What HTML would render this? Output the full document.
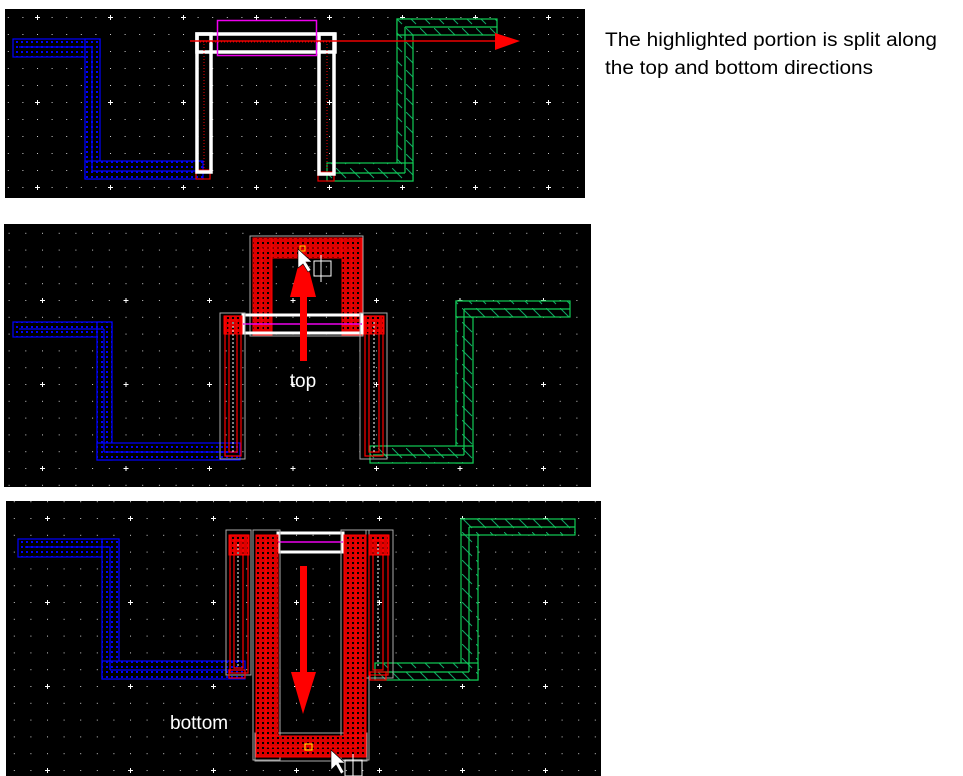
<!DOCTYPE html>
<html><head><meta charset="utf-8"><style>
html,body{margin:0;padding:0;background:#fff;width:963px;height:776px;overflow:hidden}
svg{display:block}
</style></head><body>
<svg width="963" height="776" viewBox="0 0 963 776" xmlns="http://www.w3.org/2000/svg">
<defs>
<pattern id="g1" x="34" y="14" width="73" height="85" patternUnits="userSpaceOnUse">
  <rect x="1" y="3" width="5" height="1" fill="#fff"/><rect x="3" y="1" width="1" height="5" fill="#fff"/>
</pattern>
<pattern id="d1" x="37" y="17" width="14.6" height="17" patternUnits="userSpaceOnUse"><rect x="0" y="0" width="1" height="1" fill="#ccc"/></pattern>
<pattern id="g2" x="206" y="297" width="83.5" height="84" patternUnits="userSpaceOnUse">
  <rect x="1" y="3" width="5" height="1" fill="#fff"/><rect x="3" y="1" width="1" height="5" fill="#fff"/>
</pattern>
<pattern id="d2" x="209" y="300" width="16.7" height="16.8" patternUnits="userSpaceOnUse"><rect x="0" y="0" width="1" height="1" fill="#ccc"/></pattern>
<pattern id="g3" x="44" y="515" width="83" height="84" patternUnits="userSpaceOnUse">
  <rect x="1" y="3" width="5" height="1" fill="#fff"/><rect x="3" y="1" width="1" height="5" fill="#fff"/>
</pattern>
<pattern id="d3" x="47" y="518" width="16.6" height="16.8" patternUnits="userSpaceOnUse"><rect x="0" y="0" width="1" height="1" fill="#ccc"/></pattern>
<pattern id="bl" width="5" height="5" patternUnits="userSpaceOnUse"><rect width="5" height="5" fill="#000"/><rect x="1" y="1" width="2" height="2" fill="#00f"/></pattern>
<pattern id="rd" width="5" height="5" patternUnits="userSpaceOnUse"><rect width="5" height="5" fill="#d00"/><rect x="2" y="2" width="2" height="2" fill="#000"/></pattern>
<pattern id="gr" width="14" height="14" patternUnits="userSpaceOnUse"><rect width="14" height="14" fill="#000"/><line x1="0" y1="0" x2="10" y2="10" stroke="#1a6" stroke-width="1"/></pattern>
</defs>

<!-- Panel 1 -->
<rect x="5" y="9" width="580" height="189" fill="#000"/>
<rect x="5" y="9" width="580" height="189" fill="url(#d1)"/>
<rect x="5" y="9" width="580" height="189" fill="url(#g1)"/>
<g fill="url(#bl)" stroke="#00f" stroke-width="1.2">
<rect x="13" y="39" width="87" height="18"/><rect x="85" y="39" width="15" height="140"/><rect x="85" y="161" width="118" height="18"/>
<line x1="19" y1="47" x2="92" y2="47"/><line x1="92" y1="47" x2="92" y2="171"/><line x1="92" y1="171" x2="200" y2="171"/>
</g>
<g fill="url(#gr)" stroke="#1c5" stroke-width="1.2">
<rect x="397" y="19" width="16" height="162"/><rect x="397" y="19" width="100" height="16"/><rect x="327" y="163" width="86" height="18"/>
<line x1="405" y1="27" x2="497" y2="27"/><line x1="405" y1="27" x2="405" y2="173"/><line x1="330" y1="173" x2="405" y2="173"/>
</g>
<rect x="196" y="170" width="14" height="9" fill="none" stroke="#e00" stroke-width="1.2"/>
<rect x="318" y="172" width="16" height="9" fill="none" stroke="#e00" stroke-width="1.2"/>
<g fill="none" stroke="#fff" stroke-width="3.5">
<rect x="197" y="34" width="14" height="138"/><rect x="197" y="34" width="138" height="18"/><rect x="319" y="34" width="15" height="140"/>
</g>
<g stroke="#e00" stroke-width="1" stroke-dasharray="1 2">
<line x1="204" y1="44" x2="204" y2="170"/><line x1="327" y1="44" x2="327" y2="170"/><line x1="200" y1="42" x2="330" y2="42"/>
</g>
<rect x="217.5" y="20.5" width="99" height="35" fill="none" stroke="#e0e" stroke-width="1.5"/>
<line x1="190" y1="41" x2="495" y2="41" stroke="#e00" stroke-width="1.5"/>
<polygon points="495,33 520,41 495,50" fill="#f00"/>
<text x="605" y="46" font-family="Liberation Sans, sans-serif" font-size="19" fill="#000" textLength="332" lengthAdjust="spacingAndGlyphs">The highlighted portion is split along</text>
<text x="605" y="74" font-family="Liberation Sans, sans-serif" font-size="19" fill="#000" textLength="268" lengthAdjust="spacingAndGlyphs">the top and bottom directions</text>

<!-- Panel 2 -->
<rect x="4" y="224" width="587" height="263" fill="#000"/>
<rect x="4" y="224" width="587" height="263" fill="url(#d2)"/>
<rect x="4" y="224" width="587" height="263" fill="url(#g2)"/>
<g fill="url(#bl)" stroke="#00f" stroke-width="1.2">
<rect x="13" y="322" width="99" height="15"/><rect x="97" y="322" width="15" height="138"/><rect x="97" y="443" width="143" height="17"/>
<line x1="19" y1="329" x2="104" y2="329"/><line x1="104" y1="329" x2="104" y2="452"/><line x1="104" y1="452" x2="237" y2="452"/>
</g>
<g fill="url(#gr)" stroke="#1c5" stroke-width="1.2">
<rect x="456" y="301" width="17" height="162"/><rect x="456" y="301" width="114" height="16"/><rect x="370" y="446" width="103" height="17"/>
<line x1="464" y1="309" x2="570" y2="309"/><line x1="464" y1="309" x2="464" y2="455"/><line x1="373" y1="455" x2="464" y2="455"/>
</g>
<!-- top block -->
<rect x="250" y="236" width="113" height="100" fill="none" stroke="#aaa" stroke-width="1"/>
<g fill="url(#rd)" stroke="#f00" stroke-width="1">
<rect x="253" y="238" width="109" height="20"/><rect x="253" y="238" width="19" height="97"/><rect x="342" y="238" width="20" height="97"/>
</g>
<g fill="none" stroke="#f00" stroke-width="1"><path d="M262 330 V248 H352 V330"/></g>
<rect x="243" y="315" width="119" height="18" fill="none" stroke="#fff" stroke-width="3"/>
<line x1="243" y1="324" x2="362" y2="324" stroke="#e0e" stroke-width="1.5"/>
<g fill="none" stroke="#aaa" stroke-width="1"><rect x="220" y="313" width="25" height="146"/><rect x="360" y="313" width="27" height="146"/></g>
<g fill="url(#rd)" stroke="#f00" stroke-width="1">
<rect x="224" y="316" width="18" height="18"/><rect x="364" y="316" width="20" height="18"/>
</g>
<g fill="none" stroke="#f00" stroke-width="1.2">
<rect x="225" y="316" width="16" height="140"/><rect x="365" y="316" width="18" height="140"/>
<rect x="229" y="320" width="8" height="132"/><rect x="369" y="320" width="10" height="132"/>
</g>
<g fill="none" stroke="#fff" stroke-width="1" stroke-dasharray="2 2"><line x1="233" y1="322" x2="233" y2="452"/><line x1="374" y1="322" x2="374" y2="452"/></g>
<rect x="300" y="295" width="7" height="66" fill="#f00"/>
<polygon points="303,247 290,297 316,297" fill="#f00"/>
<rect x="300" y="246" width="5" height="5" fill="none" stroke="#fc0" stroke-width="1"/>
<polygon points="298,249 298,268 303,264 308,272 311,270 306,262 312,262" fill="#fff" stroke="#000" stroke-width="0.6"/>
<rect x="314" y="261" width="17" height="15" fill="none" stroke="#fff" stroke-width="1"/>
<line x1="321" y1="255" x2="321" y2="282" stroke="#fff" stroke-width="1"/>
<text x="303" y="387" text-anchor="middle" font-family="Liberation Sans, sans-serif" font-size="19" fill="#fff">top</text>

<!-- Panel 3 -->
<rect x="6" y="501" width="595" height="275" fill="#000"/>
<rect x="6" y="501" width="595" height="275" fill="url(#d3)"/>
<rect x="6" y="501" width="595" height="275" fill="url(#g3)"/>
<g fill="url(#bl)" stroke="#00f" stroke-width="1.2">
<rect x="18" y="539" width="101" height="18"/><rect x="102" y="539" width="17" height="140"/><rect x="102" y="661" width="143" height="18"/>
<line x1="25" y1="547" x2="110" y2="547"/><line x1="110" y1="547" x2="110" y2="670"/><line x1="110" y1="670" x2="242" y2="670"/>
</g>
<g fill="url(#gr)" stroke="#1c5" stroke-width="1.2">
<rect x="461" y="519" width="17" height="161"/><rect x="461" y="519" width="114" height="16"/><rect x="375" y="663" width="103" height="17"/>
<line x1="469" y1="527" x2="575" y2="527"/><line x1="469" y1="527" x2="469" y2="672"/><line x1="378" y1="672" x2="469" y2="672"/>
</g>
<rect x="278" y="533" width="65" height="19" fill="none" stroke="#fff" stroke-width="3"/>
<line x1="278" y1="542" x2="343" y2="542" stroke="#e0e" stroke-width="1.5"/>
<g fill="none" stroke="#aaa" stroke-width="1">
<rect x="226" y="530" width="25" height="145"/><rect x="253" y="530" width="27" height="230"/><rect x="341" y="530" width="28" height="230"/><rect x="366" y="530" width="27" height="148"/>
<rect x="255" y="733" width="112" height="28"/>
</g>
<g fill="url(#rd)" stroke="#f00" stroke-width="1">
<rect x="256" y="535" width="22" height="222"/><rect x="344" y="535" width="22" height="222"/><rect x="256" y="736" width="110" height="21"/>
<rect x="229" y="535" width="20" height="20"/><rect x="369" y="535" width="20" height="20"/>
</g>
<g fill="none" stroke="#f00" stroke-width="1"><path d="M266 540 V747 H356 V540"/></g>
<g fill="none" stroke="#f00" stroke-width="1.2">
<rect x="230" y="535" width="18" height="138"/><rect x="369" y="535" width="19" height="140"/>
<rect x="234" y="540" width="9" height="128"/><rect x="373" y="540" width="10" height="130"/>
<rect x="229" y="670" width="16" height="8"/><rect x="370" y="672" width="16" height="8"/>
</g>
<g fill="none" stroke="#fff" stroke-width="1" stroke-dasharray="2 2"><line x1="238" y1="544" x2="238" y2="666"/><line x1="378" y1="544" x2="378" y2="668"/></g>
<rect x="300" y="566" width="7" height="108" fill="#f00"/>
<polygon points="291,672 316,672 303,714" fill="#f00"/>
<rect x="305" y="744" width="7" height="6" fill="none" stroke="#fc0" stroke-width="1.2"/>
<polygon points="331,750 331,770 336,765 341,774 344,772 339,763 345,763" fill="#fff" stroke="#000" stroke-width="0.6"/>
<rect x="345" y="760" width="17" height="16" fill="none" stroke="#fff" stroke-width="1"/>
<line x1="353" y1="754" x2="353" y2="776" stroke="#fff" stroke-width="1"/>
<text x="170" y="729" font-family="Liberation Sans, sans-serif" font-size="19" fill="#fff">bottom</text>
</svg>
</body></html>
